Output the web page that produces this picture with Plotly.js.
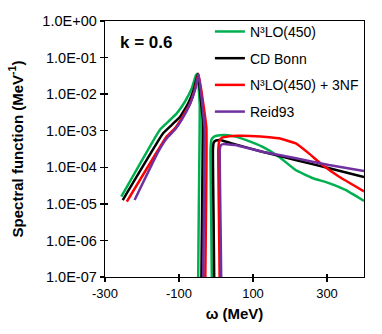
<!DOCTYPE html>
<html>
<head>
<meta charset="utf-8">
<script src="https://cdn.plot.ly/plotly-3.0.1.min.js"></script>
<style>html,body{margin:0;padding:0;background:#fff;}#chart{width:382px;height:334px;}</style>
</head>
<body>
<div id="chart"></div>
<script>
// Series names
const seriesNames = ["N³LO(450)", "CD Bonn", "N³LO(450) + 3NF", "Reid93"];
const seriesColors = ["#00B050", "#000000", "#FF0000", "#7030A0"];

// omega (MeV) and spectral function (MeV^-1); 1e-12 marks values below the axis (vertical drops)
const n3loX = [-256, -152, -129, -106, -84, -65.5, -54, -50, -44, -43.5, -15, -14.8, -12, -5, 5, 25, 50, 80, 125, 170, 215, 260, 305, 350, 400];
const n3loY = [1.57e-5, 1.05e-3, 1.77e-3, 2.99e-3, 6.2e-3, 1.44e-2, 3.33e-2, 3.6e-2, 5.0e-3, 1e-12, 1e-12, 3.0e-4, 5.8e-4, 6.9e-4, 7.4e-4, 7.6e-4, 7.0e-4, 5.6e-4, 3.65e-4, 1.95e-4, 8.4e-5, 5.1e-5, 3.7e-5, 2.4e-5, 1.2e-5];

const cdbonnX = [-252, -143, -120, -97, -75, -59, -49, -36, -35.5, -8.5, -8.3, -6, 0, 12, 43, 125, 215, 306, 400];
const cdbonnY = [1.27e-5, 8.5e-4, 1.43e-3, 2.41e-3, 5.6e-3, 1.44e-2, 3.55e-2, 2.0e-3, 1e-12, 1e-12, 3.0e-4, 4.8e-4, 5.4e-4, 5.6e-4, 4.5e-4, 2.67e-4, 1.58e-4, 9.4e-5, 5.4e-5];

const n3lo3nfX = [-241, -133.5, -111, -93, -70, -56.5, -47.5, -26, -25.2, 6, 6.2, 9, 16, 35, 60, 120, 170, 216, 251, 288, 333, 400];
const n3lo3nfY = [1.15e-5, 6.9e-4, 1.16e-3, 2.18e-3, 5.6e-3, 1.44e-2, 3.6e-2, 1.2e-3, 1e-12, 1e-12, 3.0e-4, 5.2e-4, 6.4e-4, 7.1e-4, 7.3e-4, 7.0e-4, 6.2e-4, 4.5e-4, 2.4e-4, 1.15e-4, 5.5e-5, 2.2e-5];

const reidX = [-220, -156, -133, -110, -92, -70, -56, -47, -31, -30, 10, 10.2, 13, 20, 52, 125, 216, 305, 400];
const reidY = [1.27e-5, 2.67e-4, 6.2e-4, 1.1e-3, 2.05e-3, 5.4e-3, 1.38e-2, 3.5e-2, 1.2e-3, 1e-12, 1e-12, 3.0e-4, 4.0e-4, 4.3e-4, 4.07e-4, 2.67e-4, 1.76e-4, 1.15e-4, 7.9e-5];

const xTickVals = [-300, -100, 100, 300];
const xTickText = ["-300", "-100", "100", "300"];
const yTickVals = [1e0, 1e-1, 1e-2, 1e-3, 1e-4, 1e-5, 1e-6, 1e-7];
const yTickText = ["1.0E+00", "1.0E-01", "1.0E-02", "1.0E-03", "1.0E-04", "1.0E-05", "1.0E-06", "1.0E-07"];

const xs = [n3loX, cdbonnX, n3lo3nfX, reidX];
const ys = [n3loY, cdbonnY, n3lo3nfY, reidY];

const traces = seriesNames.map((name, i) => ({
  type: "scatter", mode: "lines", name: name,
  x: xs[i], y: ys[i], legendgroup: "g" + i,
  line: {color: seriesColors[i], width: 2.5, shape: "spline", smoothing: 0.3},
  hoverinfo: "none"
}));
// dummy trace for overlay axes (inside tick halves)
traces.push({type: "scatter", mode: "lines", x: [-300], y: [1e-3], xaxis: "x2", yaxis: "y2", showlegend: false, hoverinfo: "none", line: {width: 0}});

const font = "Liberation Sans, Arial, sans-serif";
const layout = {
  width: 382, height: 334,
  margin: {l: 105, r: 18, t: 21, b: 57},
  paper_bgcolor: "#fff", plot_bgcolor: "#fff",
  showlegend: true,
  legend: {x: 0.405, y: 1.02, xanchor: "left", yanchor: "top", bgcolor: "rgba(0,0,0,0)",
           font: {family: font, size: 14, color: "#000"}, tracegroupgap: 5.5, itemwidth: 30},
  xaxis: {
    type: "linear", range: [-300, 400], tickvals: xTickVals, ticktext: xTickText,
    ticks: "outside", ticklen: 4, tickwidth: 1.3, tickcolor: "#000",
    showline: true, linecolor: "#000", linewidth: 1.3, mirror: true,
    showgrid: false, zeroline: false,
    tickfont: {family: font, size: 13, color: "#000"},
    title: {text: "<b>ω (MeV)</b>", font: {family: font, size: 15, color: "#000"}, standoff: 8}
  },
  yaxis: {
    type: "log", range: [-7, 0], tickvals: yTickVals, ticktext: yTickText,
    ticks: "outside", ticklen: 4, tickwidth: 1.3, tickcolor: "#000",
    showline: true, linecolor: "#000", linewidth: 1.3, mirror: true,
    showgrid: false, zeroline: false,
    tickfont: {family: font, size: 14.5, color: "#000"},
    title: {text: "<b>Spectral function (MeV<sup>-1</sup>)</b>", font: {family: font, size: 15, color: "#000"}, standoff: 15}
  },
  xaxis2: {overlaying: "x", matches: "x", range: [-300, 400], tickvals: xTickVals, ticks: "inside", ticklen: 3, tickwidth: 1.3, tickcolor: "#000", showticklabels: false, showgrid: false, zeroline: false, showline: false},
  yaxis2: {overlaying: "y", type: "log", range: [-7, 0], tickvals: yTickVals, ticks: "inside", ticklen: 3, tickwidth: 1.3, tickcolor: "#000", showticklabels: false, showgrid: false, zeroline: false, showline: false},
  annotations: [{
    xref: "paper", yref: "paper", x: 0.05, y: 0.915, xanchor: "left", yanchor: "middle",
    text: "<b>k = 0.6</b>", showarrow: false, font: {family: font, size: 17, color: "#000"}
  }]
};

Plotly.newPlot("chart", traces, layout, {displayModeBar: false, staticPlot: true});
</script>
</body>
</html>
